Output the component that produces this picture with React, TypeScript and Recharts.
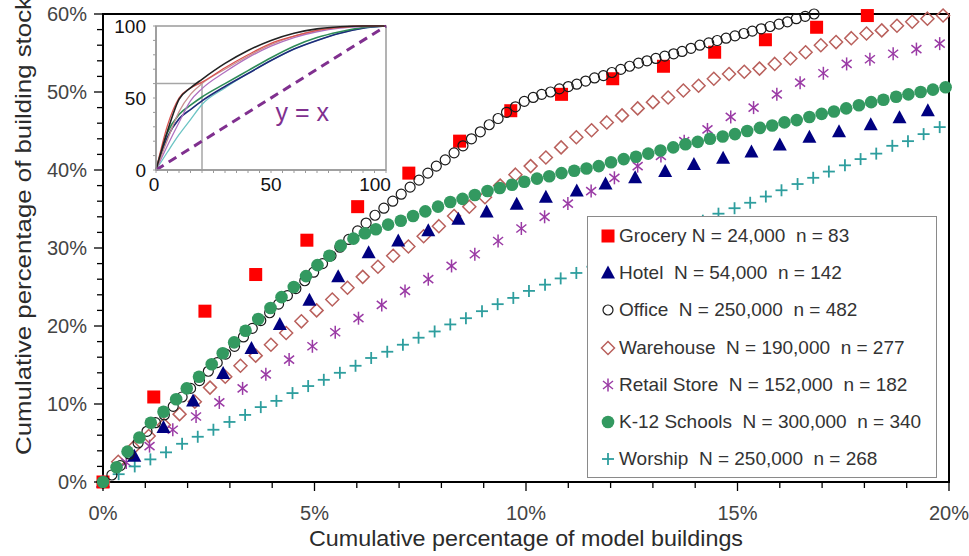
import React from 'react';
import {
  ScatterChart, Scatter, XAxis, YAxis, ReferenceArea, Legend,
  LineChart, Line, ReferenceLine, ReferenceDot,
} from 'recharts';

const FONT = '"Liberation Sans", Arial, Helvetica, sans-serif';

// ---------- main chart data (x: % of model buildings, y: % of building stock) ----------
const groceryX = [0, 1.2, 2.41, 3.61, 4.82, 6.02, 7.23, 8.43, 9.64, 10.84, 12.05, 13.25, 14.46, 15.66, 16.87, 18.07];
const groceryY = [0, 10.9, 21.9, 26.6, 31.0, 35.3, 39.6, 43.7, 47.6, 49.7, 51.7, 53.3, 55.1, 56.7, 58.3, 59.8];

const hotelX = [0, 0.74, 1.43, 2.13, 2.84, 3.51, 4.18, 4.88, 5.56, 6.28, 6.98, 7.69, 8.4, 9.07, 9.78, 10.47, 11.2, 11.88, 12.58, 13.29, 13.97, 14.66, 15.33, 16.0, 16.7, 17.4, 18.15, 18.83, 19.5];
const hotelY = [0, 3.3, 7.0, 10.4, 13.9, 17.1, 20.2, 23.3, 26.3, 29.4, 30.9, 32.2, 33.7, 34.6, 35.6, 36.5, 37.3, 38.2, 39.0, 39.8, 40.7, 41.5, 42.3, 43.2, 44.2, 44.9, 45.8, 46.7, 47.6];

const officeX = [0, 0.21, 0.41, 0.62, 0.83, 1.04, 1.24, 1.45, 1.66, 1.87,
  2.07, 2.28, 2.49, 2.70, 2.90, 3.11, 3.32, 3.53, 3.73, 3.94,
  4.15, 4.36, 4.56, 4.77, 4.98, 5.19, 5.39, 5.60, 5.81, 6.02,
  6.22, 6.43, 6.64, 6.85, 7.05, 7.26, 7.47, 7.68, 7.88, 8.09,
  8.30, 8.51, 8.71, 8.92, 9.13, 9.34, 9.54, 9.75, 9.96, 10.17,
  10.37, 10.58, 10.79, 11.00, 11.20, 11.41, 11.62, 11.83, 12.03, 12.24,
  12.45, 12.66, 12.86, 13.07, 13.28, 13.49, 13.69, 13.90, 14.11, 14.32,
  14.52, 14.73, 14.94, 15.15, 15.35, 15.56, 15.77, 15.98, 16.18, 16.39,
  16.60, 16.81];
const officeY = [0, 0.9, 2.1, 3.6, 5.0, 6.5, 7.6, 8.6, 9.7, 10.9,
  12.0, 13.0, 14.2, 15.3, 16.4, 17.4, 18.6, 19.7, 20.7, 21.7,
  22.8, 23.9, 24.8, 25.8, 26.9, 28.0, 29.0, 30.1, 31.1, 32.2,
  33.2, 34.2, 35.1, 36.0, 36.9, 37.8, 38.7, 39.6, 40.5, 41.3,
  42.2, 43.1, 44.0, 44.9, 45.8, 46.6, 47.4, 48.1, 48.8, 49.3,
  49.7, 50.0, 50.4, 50.7, 51.0, 51.4, 51.8, 52.1, 52.5, 52.9,
  53.3, 53.7, 54.0, 54.3, 54.6, 54.9, 55.2, 55.6, 56.0, 56.3,
  56.6, 56.9, 57.2, 57.5, 57.8, 58.1, 58.4, 58.7, 59.0, 59.4,
  59.7, 60.0];

const warehouseX = [0, 0.36, 0.72, 1.08, 1.44, 1.81, 2.17, 2.53, 2.89, 3.25,
  3.61, 3.97, 4.33, 4.69, 5.05, 5.42, 5.78, 6.14, 6.50, 6.86,
  7.22, 7.58, 7.94, 8.30, 8.66, 9.03, 9.39, 9.75, 10.11, 10.47,
  10.83, 11.19, 11.55, 11.91, 12.27, 12.64, 13.00, 13.36, 13.72, 14.08,
  14.44, 14.80, 15.16, 15.52, 15.88, 16.25, 16.61, 16.97, 17.33, 17.69,
  18.05, 18.41, 18.77, 19.13, 19.49, 19.86];
const warehouseY = [0, 2.6, 4.4, 5.9, 7.3, 8.7, 10.3, 12.1, 13.5, 14.9,
  16.2, 17.6, 19.1, 20.6, 22.0, 23.4, 24.9, 26.3, 27.6, 29.0,
  30.2, 31.5, 32.8, 34.1, 35.3, 36.5, 38.0, 39.4, 40.5, 41.6,
  42.9, 44.2, 45.1, 46.1, 47.0, 47.9, 48.7, 49.3, 50.2, 50.8,
  51.7, 52.3, 52.6, 53.0, 53.6, 54.3, 55.1, 56.0, 56.4, 56.9,
  57.5, 57.9, 58.5, 59.0, 59.4, 59.8];

const retailX = [0, 0.55, 1.10, 1.65, 2.20, 2.75, 3.30, 3.85, 4.40, 4.95,
  5.49, 6.04, 6.59, 7.14, 7.69, 8.24, 8.79, 9.34, 9.89, 10.44,
  10.99, 11.54, 12.09, 12.64, 13.19, 13.74, 14.29, 14.84, 15.38, 15.93,
  16.48, 17.03, 17.58, 18.13, 18.68, 19.23, 19.78];
const retailY = [0, 2.5, 4.6, 6.7, 8.4, 10.2, 12.0, 13.8, 15.7, 17.4,
  19.2, 21.0, 22.7, 24.5, 26.0, 27.7, 29.2, 30.9, 32.5, 34.0,
  35.7, 37.3, 39.0, 40.5, 41.8, 43.7, 45.2, 46.8, 48.0, 49.7,
  51.2, 52.4, 53.6, 54.2, 54.9, 55.5, 56.2];

const schoolsX = [0, 0.32, 0.58, 0.86, 1.13, 1.43, 1.73, 1.98, 2.27, 2.57,
  2.83, 3.10, 3.37, 3.67, 3.96, 4.22, 4.51, 4.80, 5.07, 5.35,
  5.62, 5.92, 6.19, 6.45, 6.74, 7.04, 7.33, 7.62, 7.92, 8.21,
  8.50, 8.79, 9.09, 9.38, 9.67, 9.96, 10.26, 10.55, 10.84, 11.14,
  11.43, 11.72, 12.01, 12.31, 12.60, 12.89, 13.18, 13.48, 13.77, 14.06,
  14.35, 14.65, 14.94, 15.23, 15.53, 15.82, 16.11, 16.40, 16.70, 16.99,
  17.28, 17.57, 17.87, 18.16, 18.45, 18.75, 19.04, 19.33, 19.62, 19.92];
const schoolsY = [0, 1.9, 3.9, 5.7, 7.6, 9.0, 10.6, 12.0, 13.5, 15.1,
  16.5, 17.9, 19.4, 20.9, 22.3, 23.7, 25.0, 26.4, 27.8, 29.0,
  30.3, 31.2, 31.9, 32.4, 33.0, 33.5, 34.1, 34.7, 35.3, 35.9,
  36.3, 36.8, 37.3, 37.7, 38.1, 38.5, 38.9, 39.2, 39.6, 39.9,
  40.2, 40.5, 41.0, 41.4, 41.7, 42.1, 42.5, 42.9, 43.3, 43.6,
  44.0, 44.3, 44.6, 45.0, 45.4, 45.7, 46.1, 46.4, 46.8, 47.2,
  47.5, 47.9, 48.3, 48.7, 49.0, 49.4, 49.7, 50.0, 50.3, 50.6];

const worshipX = [0, 0.37, 0.75, 1.12, 1.49, 1.87, 2.24, 2.61, 2.99, 3.36,
  3.73, 4.10, 4.48, 4.85, 5.22, 5.60, 5.97, 6.34, 6.72, 7.09,
  7.46, 7.84, 8.21, 8.58, 8.96, 9.33, 9.70, 10.07, 10.45, 10.82,
  11.19, 11.57, 11.94, 12.31, 12.69, 13.06, 13.43, 13.81, 14.18, 14.55,
  14.93, 15.30, 15.67, 16.04, 16.42, 16.79, 17.16, 17.54, 17.91, 18.28,
  18.66, 19.03, 19.40, 19.78];
const worshipY = [0, 1.0, 2.0, 2.9, 3.8, 4.9, 5.8, 6.7, 7.7, 8.6,
  9.6, 10.4, 11.4, 12.3, 13.1, 14.0, 14.9, 15.9, 16.7, 17.6,
  18.5, 19.3, 20.2, 21.0, 21.9, 22.8, 23.6, 24.5, 25.3, 26.1,
  26.8, 27.6, 28.5, 29.3, 30.1, 30.9, 31.7, 32.6, 33.5, 34.4,
  35.1, 35.8, 36.6, 37.4, 38.2, 39.0, 39.8, 40.6, 41.4, 42.1,
  43.1, 43.7, 44.6, 45.5];

// ---------- ticks / labels ----------
const xTicks = [0, 1, 2, 3, 4, 5, 6, 7, 8, 9, 10, 11, 12, 13, 14, 15, 16, 17, 18, 19, 20];
const xLabelValues = [0, 5, 10, 15, 20];
const yTicks = [0, 2, 4, 6, 8, 10, 12, 14, 16, 18, 20, 22, 24, 26, 28, 30, 32, 34, 36, 38, 40, 42, 44, 46, 48, 50, 52, 54, 56, 58, 60];
const yLabelValues = [0, 10, 20, 30, 40, 50, 60];
const xTitle = 'Cumulative percentage of model buildings';
const yTitle = 'Cumulative percentage of building stock';

const legendLabels = [
  'Grocery N = 24,000  n = 83',
  'Hotel  N = 54,000  n = 142',
  'Office  N = 250,000  n = 482',
  'Warehouse  N = 190,000  n = 277',
  'Retail Store  N = 152,000  n = 182',
  'K-12 Schools  N = 300,000  n = 340',
  'Worship  N = 250,000  n = 268',
];

// ---------- inset data (full 0-100 range) ----------
const insetX = [0, 5, 10, 15, 20, 30, 40, 50, 60, 70, 80, 90, 100];
const insetWorship = [0, 12.5, 24.5, 35, 45.5, 57, 67, 76, 84, 90, 95, 98.5, 100];
const insetHotel = [0, 23, 35.5, 42, 48, 58, 67, 76, 84, 90, 95, 98.5, 100];
const insetSchools = [0, 26, 38.5, 45, 50.7, 60, 69, 78, 86, 92, 96, 99, 100];
const insetRetail = [0, 17, 33, 48, 56.5, 68, 78, 86, 92, 96, 98.5, 99.5, 100];
const insetWarehouse = [0, 21, 40.5, 52.5, 60, 70, 79, 87, 93, 97, 99, 100, 100];
const insetGrocery = [0, 31, 50, 57, 61, 71, 80, 88, 93, 97, 99, 100, 100];
const insetOffice = [0, 27, 49, 57, 63, 74, 83, 90, 95, 98, 99.5, 100, 100];
const insetXTicks = [0, 5, 10, 15, 20, 25, 30, 35, 40, 45, 50, 55, 60, 65, 70, 75, 80, 85, 90, 95, 100];
const insetYTicks = [0, 10, 20, 30, 40, 50, 60, 70, 80, 90, 100];
const insetLabelValues = [0, 50, 100];

const C = {
  grocery: '#FF0000',
  hotel: '#000080',
  office: '#1a1a1a',
  warehouse: '#B9605C',
  retail: '#9A3AA5',
  schools: '#339960',
  worship: '#2E9E9E',
  purple: '#80308F',
};

const pts = (xs: number[], ys: number[]) => xs.map((x, i) => ({ x, y: ys[i] }));
const groceryData = pts(groceryX, groceryY);
const hotelData = pts(hotelX, hotelY);
const officeData = pts(officeX, officeY);
const warehouseData = pts(warehouseX, warehouseY);
const retailData = pts(retailX, retailY);
const schoolsData = pts(schoolsX, schoolsY);
const worshipData = pts(worshipX, worshipY);

const insetRows = insetX.map((x, i) => ({
  x,
  worship: insetWorship[i],
  hotel: insetHotel[i],
  schools: insetSchools[i],
  retail: insetRetail[i],
  warehouse: insetWarehouse[i],
  grocery: insetGrocery[i],
  office: insetOffice[i],
}));

type Kind = 'square' | 'triangle' | 'ring' | 'diamond' | 'asterisk' | 'dot' | 'plus';

function Marker({ kind, cx, cy, color }: { kind: Kind; cx: number; cy: number; color: string }) {
  if (cx == null || cy == null || isNaN(cx) || isNaN(cy)) return <g />;
  switch (kind) {
    case 'square':
      return <rect x={cx - 6.5} y={cy - 6.5} width={13} height={13} fill={color} />;
    case 'triangle':
      return <polygon points={`${cx},${cy - 7.5} ${cx + 7},${cy + 5.5} ${cx - 7},${cy + 5.5}`} fill={color} />;
    case 'ring':
      return <circle cx={cx} cy={cy} r={5} fill="none" stroke={color} strokeWidth={1.2} />;
    case 'diamond':
      return <polygon points={`${cx},${cy - 6.5} ${cx + 6.5},${cy} ${cx},${cy + 6.5} ${cx - 6.5},${cy}`} fill="none" stroke={color} strokeWidth={1.5} />;
    case 'asterisk':
      return (
        <g stroke={color} strokeWidth={1.5}>
          <line x1={cx} y1={cy - 6.5} x2={cx} y2={cy + 6.5} />
          <line x1={cx - 5} y1={cy - 4} x2={cx + 5} y2={cy + 4} />
          <line x1={cx - 5} y1={cy + 4} x2={cx + 5} y2={cy - 4} />
        </g>
      );
    case 'dot':
      return <circle cx={cx} cy={cy} r={6.3} fill={color} />;
    case 'plus':
      return (
        <g stroke={color} strokeWidth={1.8}>
          <line x1={cx - 6} y1={cy} x2={cx + 6} y2={cy} />
          <line x1={cx} y1={cy - 6} x2={cx} y2={cy + 6} />
        </g>
      );
  }
  return <g />;
}

const legendKinds: Kind[] = ['square', 'triangle', 'ring', 'diamond', 'asterisk', 'dot', 'plus'];
const legendColors = [C.grocery, C.hotel, C.office, C.warehouse, C.retail, C.schools, C.worship];

const shapeOf = (kind: Kind, color: string) => (p: any) => <Marker kind={kind} cx={p.cx} cy={p.cy} color={color} />;

const XTick = (props: any) => {
  const { x, y, payload } = props;
  const v = payload.value;
  if (!xLabelValues.includes(v)) return <g />;
  return (
    <g>
      <line x1={x} y1={y - 2} x2={x} y2={y + 1} stroke="#000" strokeWidth={1.3} />
      <text x={x} y={y + 30} textAnchor="middle" fontSize={20} fill="#444" fontFamily={FONT}>{`${v}%`}</text>
    </g>
  );
};

const YTick = (props: any) => {
  const { x, y, payload } = props;
  const v = payload.value;
  if (!yLabelValues.includes(v)) return <g />;
  return (
    <g>
      <line x1={x + 2} y1={y} x2={x - 1} y2={y} stroke="#000" strokeWidth={1.3} />
      <text x={x - 8} y={y} dy="0.36em" textAnchor="end" fontSize={20} fill="#444" fontFamily={FONT}>{`${v}%`}</text>
    </g>
  );
};

const XTitle = () => (
  <text x={526} y={546} textAnchor="middle" fontSize={22} fill="#2b2b2b" fontFamily={FONT}
    textLength={434} lengthAdjust="spacingAndGlyphs">{xTitle}</text>
);

const YTitle = () => (
  <text x={31} y={226} transform="rotate(-90 31 226)" textAnchor="middle" fontSize={22} fill="#2b2b2b" fontFamily={FONT}
    textLength={458} lengthAdjust="spacingAndGlyphs">{yTitle}</text>
);

const LegendBox = () => (
  <div style={{
    width: 350, height: 262, boxSizing: 'border-box', border: '1.5px solid #8a8a8a',
    background: '#fff', fontFamily: FONT, position: 'relative',
  }}>
    {legendLabels.map((label, i) => (
      <div key={label} style={{ position: 'absolute', left: 0, top: 19 + i * 37.2 - 13, height: 26, width: 345 }}>
        <svg width={24} height={26} style={{ position: 'absolute', left: 8, top: 0 }}>
          <Marker kind={legendKinds[i]} cx={12} cy={13} color={legendColors[i]} />
        </svg>
        <span style={{
          position: 'absolute', left: 31, top: 0, lineHeight: '26px', fontSize: 19,
          color: '#333', whiteSpace: 'pre',
        }}>{label}</span>
      </div>
    ))}
  </div>
);

const InsetXTick = (props: any) => {
  const { x, y, payload } = props;
  const v = payload.value;
  if (!insetLabelValues.includes(v)) return <g />;
  const shift = v === 100 ? -11 : v === 0 ? -2 : 0;
  return (
    <text x={x + shift} y={y + 16} textAnchor="middle" fontSize={19} fill="#111" fontFamily={FONT}>{v}</text>
  );
};

const InsetYTick = (props: any) => {
  const { x, y, payload } = props;
  const v = payload.value;
  if (!insetLabelValues.includes(v)) return <g />;
  return (
    <text x={x} y={y} dy="0.36em" textAnchor="end" fontSize={19} fill="#111" fontFamily={FONT}>{v}</text>
  );
};

const YeqX = (p: any) => (
  <text x={p.cx} y={p.cy} fontSize={25} fill={C.purple} fontFamily={FONT}>y = x</text>
);

export default function App() {
  return (
    <div style={{ position: 'fixed', left: 0, top: 0, width: 969, height: 556, background: '#fff', overflow: 'hidden' }}>
      <ScatterChart width={969} height={556} margin={{ top: 14, right: 20, bottom: 0, left: 0 }}>
        <XAxis
          type="number" dataKey="x" domain={[0, 20]} ticks={xTicks} interval={0}
          tickSize={6} tickMargin={2} height={74}
          axisLine={{ stroke: '#000', strokeWidth: 2 }} tickLine={{ stroke: '#000', strokeWidth: 1.3 }}
          tick={<XTick />} label={XTitle}
        />
        <YAxis
          type="number" dataKey="y" domain={[0, 60]} ticks={yTicks} interval={0}
          tickSize={6} tickMargin={2} width={103}
          axisLine={{ stroke: '#000', strokeWidth: 2 }} tickLine={{ stroke: '#000', strokeWidth: 1.3 }}
          tick={<YTick />} label={YTitle}
        />
        <ReferenceArea x1={0} x2={20} y1={0} y2={60} fill="none" stroke="#000" strokeWidth={2} />
        <Scatter name="Warehouse" data={warehouseData} isAnimationActive={false} shape={shapeOf('diamond', C.warehouse)} />
        <Scatter name="Retail Store" data={retailData} isAnimationActive={false} shape={shapeOf('asterisk', C.retail)} />
        <Scatter name="Worship" data={worshipData} isAnimationActive={false} shape={shapeOf('plus', C.worship)} />
        <Scatter name="Hotel" data={hotelData} isAnimationActive={false} shape={shapeOf('triangle', C.hotel)} />
        <Scatter name="Grocery" data={groceryData} isAnimationActive={false} shape={shapeOf('square', C.grocery)} />
        <Scatter name="Office" data={officeData} isAnimationActive={false} shape={shapeOf('ring', C.office)} />
        <Scatter name="K-12 Schools" data={schoolsData} isAnimationActive={false} shape={shapeOf('dot', C.schools)} />
        <Legend
          layout="horizontal" verticalAlign="middle" align="center"
          content={<LegendBox />}
          wrapperStyle={{ left: 587, top: 216, width: 350, height: 262 }}
        />
      </ScatterChart>

      <div style={{ position: 'absolute', left: 100, top: 5 }}>
        <LineChart width={300} height={200} data={insetRows} margin={{ top: 21, right: 14, left: 0, bottom: 0 }}>
          <XAxis
            type="number" dataKey="x" domain={[0, 100]} ticks={insetXTicks} interval={0}
            tickSize={3} tickMargin={2} height={35}
            axisLine={{ stroke: '#9a9a9a', strokeWidth: 1.5 }} tickLine={{ stroke: '#9a9a9a' }}
            tick={<InsetXTick />}
          />
          <YAxis
            type="number" domain={[0, 100]} ticks={insetYTicks} interval={0}
            tickSize={3} tickMargin={7} width={56}
            axisLine={{ stroke: '#9a9a9a', strokeWidth: 1.5 }} tickLine={{ stroke: '#9a9a9a' }}
            tick={<InsetYTick />}
          />
          <ReferenceArea x1={0} x2={100} y1={0} y2={100} fill="none" stroke="#9a9a9a" strokeWidth={1.5} />
          <ReferenceArea x1={0} x2={20} y1={0} y2={60} fill="none" stroke="#a6a6a6" strokeWidth={1.5} />
          <Line type="monotone" dataKey="worship" stroke="#6cc4c4" strokeWidth={1.3} dot={false} isAnimationActive={false} />
          <Line type="monotone" dataKey="hotel" stroke="#1f2a7a" strokeWidth={1.6} dot={false} isAnimationActive={false} />
          <Line type="monotone" dataKey="schools" stroke="#2e8b57" strokeWidth={1.6} dot={false} isAnimationActive={false} />
          <Line type="monotone" dataKey="retail" stroke="#b070c0" strokeWidth={1.3} dot={false} isAnimationActive={false} />
          <Line type="monotone" dataKey="warehouse" stroke="#c99090" strokeWidth={1.3} dot={false} isAnimationActive={false} />
          <Line type="monotone" dataKey="grocery" stroke="#d9534f" strokeWidth={1.3} dot={false} isAnimationActive={false} />
          <Line type="monotone" dataKey="office" stroke="#222" strokeWidth={1.6} dot={false} isAnimationActive={false} />
          <ReferenceLine segment={[{ x: 0, y: 0 }, { x: 100, y: 100 }]} stroke={C.purple} strokeWidth={3} strokeDasharray="9 6" />
          <ReferenceDot x={52} y={34} r={0} shape={YeqX} />
        </LineChart>
      </div>
    </div>
  );
}
